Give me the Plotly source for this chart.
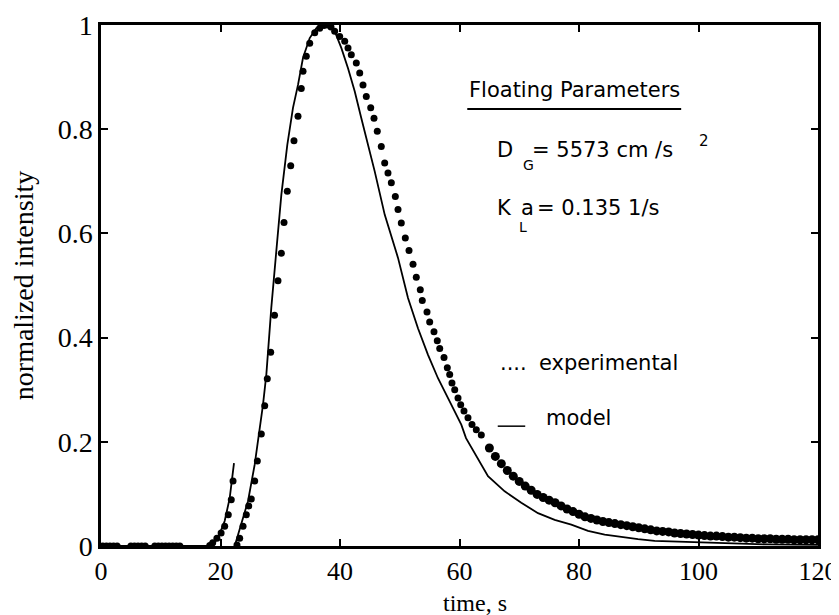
import plotly.graph_objects as go

# ---------------- data ----------------
# experimental points (time, s / normalized intensity)
exp_base_t = [0.3, 0.9, 1.5, 2.1, 2.7, 5.0, 5.6, 6.2, 6.8, 7.4,
              9.0, 9.6, 10.2, 10.8, 11.4, 12.0, 12.6, 13.2]
exp_base_v = [0.0] * len(exp_base_t)

exp_early_t = [18.2, 18.7, 19.4, 20.1, 20.7, 21.3, 21.8, 22.1]
exp_early_v = [0.001, 0.006, 0.015, 0.025, 0.038, 0.060, 0.089, 0.125]

exp_main_t = [22.76, 23.21, 23.77, 24.32, 24.72, 25.15, 25.72, 26.16, 26.83, 27.40,
              27.83, 28.40, 29.04, 29.62, 30.18, 30.63, 31.18, 31.75, 32.30, 32.97,
              33.52, 33.81, 34.36, 34.93, 35.77, 36.60, 37.32, 37.99, 38.49, 39.11,
              39.95, 40.79, 41.34, 41.89, 42.73, 43.30, 43.85, 44.40, 45.14, 45.69,
              46.24, 46.91, 47.48, 48.03, 48.59, 49.26, 49.71, 50.26, 50.93, 51.55,
              52.22, 52.77, 53.44, 53.77, 54.56, 55.01, 55.73, 56.28, 56.69, 57.41,
              57.96, 58.36, 58.74, 59.20, 59.75, 60.20, 60.75, 61.42, 62.09, 62.81,
              63.65]
exp_main_v = [0.002, 0.015, 0.038, 0.060, 0.077, 0.090, 0.125, 0.163, 0.215, 0.269,
              0.321, 0.372, 0.443, 0.509, 0.562, 0.621, 0.681, 0.730, 0.778, 0.825,
              0.878, 0.911, 0.940, 0.965, 0.985, 0.994, 0.999, 1.000, 0.996, 0.988,
              0.978, 0.969, 0.956, 0.943, 0.927, 0.908, 0.885, 0.863, 0.841, 0.821,
              0.796, 0.767, 0.735, 0.716, 0.697, 0.671, 0.646, 0.620, 0.591, 0.567,
              0.541, 0.516, 0.492, 0.471, 0.449, 0.430, 0.411, 0.394, 0.379, 0.362,
              0.342, 0.329, 0.313, 0.300, 0.284, 0.271, 0.259, 0.246, 0.233, 0.223,
              0.213]

# dense tail: points merge into a thick band in the original
exp_tail_t = [65, 66, 67, 68, 69, 70, 71, 72, 73, 74, 75, 76, 77, 78, 79, 80,
              81, 82, 83, 84, 85, 86, 87, 88, 89, 90, 91, 92, 93, 94, 95, 96,
              97, 98, 99, 100, 101, 102, 103, 104, 105, 106, 107, 108, 109, 110,
              111, 112, 113, 114, 115, 116, 117, 118, 119, 120]
exp_tail_v = [0.188, 0.172, 0.158, 0.145, 0.134, 0.124, 0.115, 0.107, 0.099, 0.093,
              0.088, 0.083, 0.077, 0.071, 0.066, 0.061, 0.056, 0.053, 0.050, 0.047,
              0.045, 0.043, 0.041, 0.039, 0.037, 0.035, 0.033, 0.031, 0.029, 0.028,
              0.027, 0.025, 0.024, 0.023, 0.022, 0.021, 0.020, 0.019, 0.019, 0.018,
              0.017, 0.017, 0.016, 0.015, 0.015, 0.014, 0.014, 0.014, 0.013, 0.013,
              0.013, 0.012, 0.012, 0.012, 0.012, 0.012]

exp_t = exp_base_t + exp_early_t + exp_main_t
exp_v = exp_base_v + exp_early_v + exp_main_v

# model curve (None = break between the two drawn pieces)
model_t = [0, 17.91, 18.74, 19.58, 20.70, 21.54, 22.26, None,
           22.38, 23.48, 24.60, 25.72, 26.56, 27.11, 27.67, 28.07, 28.50, 29.34,
           30.18, 31.18, 32.13, 32.97, 33.81, 34.93, 36.03, 37.32, 37.99, 39.11,
           40.22, 41.34, 42.46, 43.57, 44.69, 45.81, 47.48, 49.71, 51.38, 53.05,
           54.73, 56.40, 58.08, 60.30, 61.09, 64.77, 67.56, 70.34, 73.14, 75.93,
           78.71, 81.51, 84.30, 87.08, 89.87, 92.67, 98.24, 104.94, 111.63, 120]
model_v = [0, 0, 0.004, 0.015, 0.048, 0.092, 0.159, None,
           0.000, 0.041, 0.086, 0.156, 0.220, 0.271, 0.329, 0.393, 0.457, 0.566,
           0.674, 0.770, 0.841, 0.885, 0.937, 0.975, 0.994, 1.000, 0.999, 0.988,
           0.956, 0.917, 0.873, 0.821, 0.770, 0.719, 0.636, 0.553, 0.476, 0.418,
           0.367, 0.322, 0.284, 0.233, 0.207, 0.134, 0.105, 0.083, 0.063, 0.050,
           0.041, 0.029, 0.022, 0.017, 0.013, 0.010, 0.008, 0.005, 0.003, 0.002]

x_ticks = [0, 20, 40, 60, 80, 100, 120]
x_tick_text = ["0", "20", "40", "60", "80", "100", "120"]
y_ticks = [0, 0.2, 0.4, 0.6, 0.8, 1.0]
y_tick_text = ["0", "0.2", "0.4", "0.6", "0.8", "1"]

# ---------------- figure ----------------
fig = go.Figure()
fig.add_trace(go.Scatter(x=model_t, y=model_v, mode="lines",
                         line=dict(color="black", width=1.8),
                         connectgaps=False, hoverinfo="skip"))
fig.add_trace(go.Scatter(x=exp_t, y=exp_v, mode="markers",
                         marker=dict(color="black", size=7, line=dict(width=0)),
                         hoverinfo="skip"))
fig.add_trace(go.Scatter(x=exp_tail_t, y=exp_tail_v, mode="markers",
                         marker=dict(color="black", size=9, line=dict(width=0)),
                         hoverinfo="skip"))

serif = "Liberation Serif, Times New Roman, serif"
sans = "DejaVu Sans, sans-serif"
axis_common = dict(showgrid=False, zeroline=False, showline=True, linecolor="black",
                   linewidth=2.5, mirror="ticks", ticks="inside", ticklen=7,
                   tickwidth=1.5, tickcolor="black")

fig.update_layout(
    width=839, height=615,
    margin=dict(l=93, r=29, t=17, b=77),
    paper_bgcolor="white", plot_bgcolor="white",
    showlegend=False,
    xaxis=dict(range=[0, 120], tickvals=x_ticks, ticktext=x_tick_text,
               tickfont=dict(family=serif, size=26, color="black"),
               automargin=False, **axis_common),
    yaxis=dict(range=[0, 1], tickvals=y_ticks, ticktext=y_tick_text,
               tickfont=dict(family=serif, size=28, color="black"),
               title=dict(text="normalized intensity",
                          font=dict(family=serif, size=28, color="black"), standoff=18),
               automargin=False, **axis_common),
)

# x-axis title
fig.add_annotation(x=62.6, y=0, xref="x", yref="paper", yshift=-57,
                   text="time, s", showarrow=False, xanchor="center", yanchor="middle",
                   font=dict(family=serif, size=24, color="black"), borderpad=0)

def txt(x, y, s, size=21):
    fig.add_annotation(x=x, y=y, xref="x", yref="y", text=s, showarrow=False,
                       xanchor="left", yanchor="middle",
                       font=dict(family=sans, size=size, color="black"), borderpad=0)

txt(61.4, 0.875, "Floating Parameters")
fig.add_shape(type="line", x0=61.3, x1=97.1, y0=0.839, y1=0.839, xref="x", yref="y",
              line=dict(color="black", width=2))
txt(66.1, 0.760, "D")
txt(70.4, 0.731, "G", size=14)
txt(72.0, 0.760, "= 5573 cm /s")
txt(99.9, 0.777, "2", size=15)
txt(66.1, 0.649, "K")
txt(70.1, 0.649, "a")
txt(69.8, 0.612, "L", size=14)
txt(72.8, 0.649, "= 0.135 1/s")
txt(66.6, 0.351, "....")
txt(73.1, 0.351, "experimental")
fig.add_shape(type="line", x0=66.4, x1=71.0, y0=0.230, y1=0.230, xref="x", yref="y",
              line=dict(color="black", width=1.5))
txt(74.3, 0.246, "model")

fig.write_html("out.html")
